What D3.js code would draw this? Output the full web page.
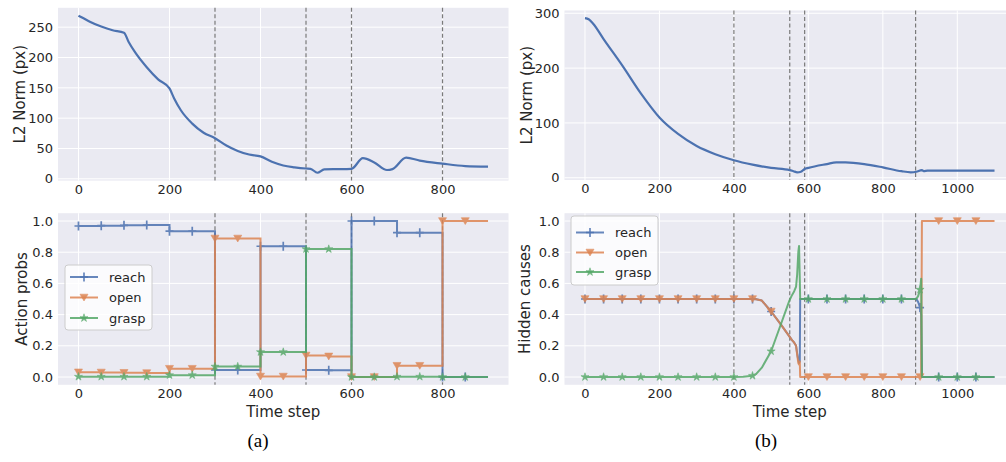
<!DOCTYPE html>
<html>
<head>
<meta charset="utf-8">
<script src="https://cdn.jsdelivr.net/npm/d3@7"></script>
<style>
  html, body { margin: 0; padding: 0; background: #fff; }
  svg { display: block; }
</style>
</head>
<body>
<svg id="chart" width="1006" height="462"></svg>
<script>
// ---------------- DATA ----------------
// (a) top: L2 norm over time
const l2aT = [0, 10, 25, 50, 75, 100, 110, 125, 150, 175, 200, 210, 225, 250, 275, 300, 325, 350, 375, 400, 425, 450, 475, 500, 510, 525, 540, 560, 580, 600, 625, 650, 678, 690, 720, 750, 800, 850, 900];
const l2aV = [269, 265, 259, 251, 245, 241, 226, 208, 184, 164, 149, 133, 113, 91, 76, 67, 55, 46, 40, 37, 28, 22, 19, 17, 16.5, 10, 15.5, 16, 16, 16.5, 34, 27, 14.5, 16, 35, 30, 25, 21, 20];
const vlinesA = [300, 500, 600, 800];

// (a) bottom: action probabilities (sampled every 50 steps)
const actT = [0, 50, 100, 150, 200, 250, 300, 350, 400, 450, 500, 550, 600, 650, 700, 750, 800, 850, 900];
const actReach = [0.968, 0.970, 0.972, 0.974, 0.935, 0.935, 0.045, 0.045, 0.838, 0.838, 0.045, 0.043, 1.0, 1.0, 0.925, 0.925, 0.0, 0.0, 0.0];
const actOpen  = [0.030, 0.029, 0.027, 0.025, 0.053, 0.053, 0.888, 0.888, 0.003, 0.003, 0.138, 0.132, 0.0, 0.0, 0.072, 0.072, 1.0, 1.0, 1.0];
const actGrasp = [0.002, 0.002, 0.002, 0.002, 0.012, 0.012, 0.067, 0.067, 0.160, 0.160, 0.820, 0.820, 0.0, 0.0, 0.002, 0.002, 0.0, 0.0, 0.0];

// (b) top: L2 norm over time
const l2bT = [0, 10, 22, 50, 100, 150, 200, 250, 300, 350, 400, 450, 500, 550, 560, 570, 580, 590, 600, 650, 675, 700, 750, 800, 850, 875, 890, 905, 910, 920, 1000, 1100];
const l2bV = [291, 289, 281, 253, 205, 154, 110, 80, 58, 43, 32, 24, 18, 14, 12, 10, 11, 16, 18, 25, 28, 28, 25, 19, 12, 10, 11, 14, 12, 13, 13, 13];
const vlinesB = [400, 550, 590, 888];

// (b) bottom: hidden causes
const hcT     = [0, 50, 100, 150, 200, 250, 300, 350, 400, 425, 450, 460, 475, 500, 525, 549, 555, 562, 567, 570, 573, 575, 577, 578, 580, 600, 650, 700, 750, 800, 850, 880, 890, 895, 900, 903, 905, 910, 950, 1000, 1050, 1100];
const hcReach = [0.5, 0.5, 0.5, 0.5, 0.5, 0.5, 0.5, 0.5, 0.5, 0.5, 0.5, 0.498, 0.49, 0.42, 0.34, 0.26, 0.24, 0.22, 0.2, 0.15, 0.11, 0.09, 0.1, 0.5, 0.5, 0.5, 0.5, 0.5, 0.5, 0.5, 0.5, 0.5, 0.5, 0.48, 0.445, 0.4, 0.0, 0.0, 0.0, 0.0, 0.0, 0.0];
const hcOpen  = [0.5, 0.5, 0.5, 0.5, 0.5, 0.5, 0.5, 0.5, 0.5, 0.5, 0.5, 0.498, 0.49, 0.42, 0.34, 0.26, 0.24, 0.22, 0.2, 0.14, 0.09, 0.08, 0.1, 0.0, 0.0, 0.0, 0.0, 0.0, 0.0, 0.0, 0.0, 0.0, 0.0, 0.0, 0.0, 0.0, 1.0, 1.0, 1.0, 1.0, 1.0, 1.0];
const hcGrasp = [0.0, 0.0, 0.0, 0.0, 0.0, 0.0, 0.0, 0.0, 0.0, 0.001, 0.008, 0.02, 0.06, 0.165, 0.33, 0.49, 0.52, 0.55, 0.58, 0.66, 0.8, 0.84, 0.62, 0.5, 0.5, 0.5, 0.5, 0.5, 0.5, 0.5, 0.5, 0.5, 0.5, 0.52, 0.56, 0.63, 0.0, 0.0, 0.0, 0.0, 0.0, 0.0];

const seriesNames = ["reach", "open", "grasp"];
const ticksXA = [0, 200, 400, 600, 800];
const ticksXB = [0, 200, 400, 600, 800, 1000];
const ticksL2A = [0, 50, 100, 150, 200, 250];
const ticksL2B = [0, 100, 200, 300];
const ticksProb = [0.0, 0.2, 0.4, 0.6, 0.8, 1.0];
const captions = ["(a)", "(b)"];

// ---------------- STYLE ----------------
const colors = { reach: "#4C72B0", open: "#DD8452", grasp: "#55A868" };
const textColor = "#262626";
const SANS = "'DejaVu Sans', sans-serif";
const svg = d3.select("#chart");

function margins(lo, hi) { const m = (hi - lo) * 0.05; return [lo - m, hi + m]; }

function panel(cfg) {
  const g = svg.append("g");
  const x = d3.scaleLinear().domain(cfg.xDomain).range(cfg.xRange);
  const y = d3.scaleLinear().domain(cfg.yDomain).range(cfg.yRange);
  const [px0, px1] = cfg.xRange, [py0, py1] = cfg.yRange;
  g.append("rect").attr("x", px0).attr("y", py1).attr("width", px1 - px0).attr("height", py0 - py1).attr("fill", "#EAEAF2");
  g.selectAll(".gx").data(cfg.xTicks).join("line")
    .attr("x1", d => x(d)).attr("x2", d => x(d)).attr("y1", py1).attr("y2", py0)
    .attr("stroke", "#fff").attr("stroke-width", 1);
  g.selectAll(".gy").data(cfg.yTicks).join("line")
    .attr("x1", px0).attr("x2", px1).attr("y1", d => y(d)).attr("y2", d => y(d))
    .attr("stroke", "#fff").attr("stroke-width", 1);
  const xa = g.append("g").attr("transform", `translate(0,${py0})`)
    .call(d3.axisBottom(x).tickValues(cfg.xTicks).tickSize(0).tickPadding(4).tickFormat(d3.format("d")));
  xa.select(".domain").remove();
  xa.selectAll("text").attr("font-size", 13).attr("fill", textColor).style("font-family", SANS);
  const ya = g.append("g").attr("transform", `translate(${px0},0)`)
    .call(d3.axisLeft(y).tickValues(cfg.yTicks).tickSize(0).tickPadding(5).tickFormat(cfg.yFormat));
  ya.select(".domain").remove();
  ya.selectAll("text").attr("font-size", 13).attr("fill", textColor).style("font-family", SANS);
  g.append("text").attr("transform", `translate(${cfg.yLabelX},${(py0 + py1) / 2}) rotate(-90)`)
    .attr("text-anchor", "middle").attr("dominant-baseline", "central").style("font-family", SANS)
    .attr("font-size", 15).attr("fill", textColor).text(cfg.yLabel);
  if (cfg.xLabel) {
    g.append("text").attr("x", (px0 + px1) / 2 + (cfg.xLabelShift || 0)).attr("y", 417)
      .attr("text-anchor", "middle").attr("font-size", 15).style("font-family", SANS)
      .attr("fill", textColor).text(cfg.xLabel);
  }
  g.selectAll(".vl").data(cfg.vlines).join("line")
    .attr("x1", d => x(d)).attr("x2", d => x(d)).attr("y1", py1).attr("y2", py0)
    .attr("stroke", "#7a7a7a").attr("stroke-width", 1.2).attr("stroke-dasharray", "4,2.5");
  return { g, x, y };
}

function markerPath(name) {
  if (name === "reach") return "M-4,0H4M0,-4.5V4.5";
  if (name === "open") return "M-4,-3.3L4,-3.3L0,3.5Z";
  return d3.symbol(d3.symbolStar, 20)();
}
function drawMarker(g, name, cx, cy) {
  const p = g.append("path").attr("d", markerPath(name)).attr("transform", `translate(${cx},${cy})`);
  if (name === "reach") p.attr("fill", "none").attr("stroke", colors[name]).attr("stroke-width", 1.7);
  else p.attr("fill", colors[name]).attr("stroke", colors[name]).attr("stroke-width", 0.6);
  return p;
}

function legend(g, lx, ly, w, h, rows) {
  g.append("rect").attr("x", lx).attr("y", ly).attr("width", w).attr("height", h).attr("rx", 3)
    .attr("fill", "#fff").attr("fill-opacity", 0.8).attr("stroke", "#cccccc").attr("stroke-width", 1);
  seriesNames.forEach((n, i) => {
    const yy = ly + rows[i];
    g.append("line").attr("x1", lx + 5).attr("x2", lx + 33).attr("y1", yy).attr("y2", yy)
      .attr("stroke", colors[n]).attr("stroke-width", 2).attr("stroke-opacity", 0.85);
    drawMarker(g, n, lx + 19, yy).attr("opacity", 0.85);
    g.append("text").attr("x", lx + 44).attr("y", yy).attr("dominant-baseline", "central")
      .style("font-family", SANS).attr("font-size", 13).attr("fill", textColor).text(n);
  });
}

// ---------------- (a) top ----------------
{
  const p = panel({
    xDomain: margins(0, 900), xRange: [58, 508.5],
    yDomain: margins(d3.min(l2aV), d3.max(l2aV)), yRange: [180.6, 7.8],
    xTicks: ticksXA, yTicks: ticksL2A, yFormat: d3.format("d"),
    yLabel: "L2 Norm (px)", yLabelX: 20, vlines: vlinesA
  });
  const line = d3.line().x((d, i) => p.x(l2aT[i])).y(d => p.y(d)).curve(d3.curveMonotoneX);
  p.g.append("path").attr("d", line(l2aV)).attr("fill", "none").attr("stroke", colors.reach).attr("stroke-width", 2.2);
}
// ---------------- (b) top ----------------
{
  const p = panel({
    xDomain: margins(0, 1100), xRange: [564.5, 1015],
    yDomain: margins(d3.min(l2bV), d3.max(l2bV)), yRange: [180, 10.5],
    xTicks: ticksXB, yTicks: ticksL2B, yFormat: d3.format("d"),
    yLabel: "L2 Norm (px)", yLabelX: 527, vlines: vlinesB
  });
  const line = d3.line().x((d, i) => p.x(l2bT[i])).y(d => p.y(d)).curve(d3.curveMonotoneX);
  p.g.append("path").attr("d", line(l2bV)).attr("fill", "none").attr("stroke", colors.reach).attr("stroke-width", 2.2);
}
// ---------------- (a) bottom ----------------
{
  const p = panel({
    xDomain: margins(0, 900), xRange: [58, 508.5],
    yDomain: margins(0, 1), yRange: [384.8, 213.2],
    xTicks: ticksXA, yTicks: ticksProb, yFormat: d3.format(".1f"),
    yLabel: "Action probs", yLabelX: 22, xLabel: "Time step", vlines: vlinesA
  });
  const series = { reach: actReach, open: actOpen, grasp: actGrasp };
  seriesNames.forEach(n => {
    const vals = series[n];
    const line = d3.line().x((d, i) => p.x(actT[i])).y(d => p.y(d)).curve(d3.curveStepAfter);
    const sg = p.g.append("g").attr("opacity", 0.85);
    sg.append("path").attr("d", line(vals)).attr("fill", "none").attr("stroke", colors[n]).attr("stroke-width", 2);
    vals.forEach((v, i) => { if (actT[i] < 900) drawMarker(sg, n, p.x(actT[i]), p.y(v)); });
  });
  legend(p.g, 65, 265, 87, 65, [12, 32.5, 53]);
}
// ---------------- (b) bottom ----------------
{
  const p = panel({
    xDomain: margins(0, 1100), xRange: [564.5, 1015],
    yDomain: margins(0, 1), yRange: [384.8, 213.2],
    xTicks: ticksXB, yTicks: ticksProb, yFormat: d3.format(".1f"),
    yLabel: "Hidden causes", yLabelX: 525, xLabel: "Time step", vlines: vlinesB
  });
  const series = { reach: hcReach, open: hcOpen, grasp: hcGrasp };
  seriesNames.forEach(n => {
    const vals = series[n];
    const line = d3.line().x((d, i) => p.x(hcT[i])).y(d => p.y(d)).curve(d3.curveLinear);
    const sg = p.g.append("g").attr("opacity", 0.85);
    sg.append("path").attr("d", line(vals)).attr("fill", "none").attr("stroke", colors[n]).attr("stroke-width", 2).attr("stroke-linejoin", "round");
    vals.forEach((v, i) => { if (hcT[i] % 50 === 0 && hcT[i] < 1100) drawMarker(sg, n, p.x(hcT[i]), p.y(v)); });
  });
  legend(p.g, 571, 216, 87, 69, [16.5, 36.5, 56]);
}
// captions
const SERIF = "'Liberation Serif', 'Times New Roman', serif";
svg.append("text").attr("x", 258).attr("y", 447).attr("text-anchor", "middle")
  .style("font-family", SERIF).attr("font-size", 19).attr("fill", "#000").text(captions[0]);
svg.append("text").attr("x", 766).attr("y", 447).attr("text-anchor", "middle")
  .style("font-family", SERIF).attr("font-size", 19).attr("fill", "#000").text(captions[1]);
</script>
</body>
</html>
